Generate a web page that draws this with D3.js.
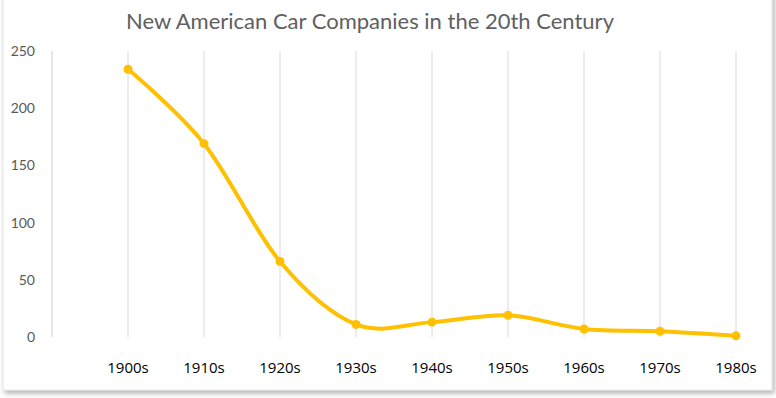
<!DOCTYPE html>
<html lang="en">
<head>
  <meta charset="UTF-8" />
  <title>New American Car Companies in the 20th Century</title>
  <style>
    html, body {
      margin: 0;
      padding: 0;
      background: #fff;
    }
    svg { display: block; }
  </style>
</head>
<body>
  <div id="chart"></div>

  <script src="https://d3js.org/d3.v7.min.js"></script>

  <script>
    const decades = ["1900s", "1910s", "1920s", "1930s", "1940s", "1950s", "1960s", "1970s", "1980s"];
    const companies = [234, 169, 66, 11, 13, 19, 7, 5, 1];
    const yTicks = [0, 50, 100, 150, 200, 250];

    const W = 776, H = 398;
    const plot = { left: 128, right: 736, top: 51, bottom: 337 };

    const svg = d3.select("#chart")
      .append("svg")
      .attr("width", W)
      .attr("height", H);

    // card with soft shadow
    const defs = svg.append("defs");
    const f = defs.append("filter").attr("id", "shadow")
      .attr("x", "-5%").attr("y", "-5%").attr("width", "110%").attr("height", "115%");
    f.append("feDropShadow")
      .attr("dx", 2).attr("dy", 3).attr("stdDeviation", 2.5)
      .attr("flood-color", "#000").attr("flood-opacity", 0.3);

    svg.append("rect")
      .attr("x", 3).attr("y", -10)
      .attr("width", 769).attr("height", 400)
      .attr("fill", "#fff")
      .attr("stroke", "#e3e3e3")
      .attr("stroke-width", 1)
      .attr("filter", "url(#shadow)");

    svg.append("text")
      .attr("x", 370)
      .attr("y", 29)
      .attr("text-anchor", "middle")
      .attr("font-family", "Lato, 'Open Sans', sans-serif")
      .attr("font-size", "22px")
      .attr("fill", "#606060")
      .text("New American Car Companies in the 20th Century");

    const x = d3.scalePoint()
      .domain(decades)
      .range([plot.left, plot.right]);

    const y = d3.scaleLinear()
      .domain([0, 250])
      .range([plot.bottom, plot.top]);

    // vertical gridlines (one extra slot left of the first decade)
    const gridX = [x(decades[0]) - x.step()].concat(decades.map(d => x(d)));
    svg.append("g")
      .selectAll("line")
      .data(gridX)
      .enter()
      .append("line")
      .attr("x1", d => d).attr("x2", d => d)
      .attr("y1", plot.top).attr("y2", plot.bottom)
      .attr("stroke", (d, i) => i === 0 ? "#cfcfcf" : "#d9d9d9")
      .attr("stroke-width", 1);

    // y labels
    svg.append("g")
      .selectAll("text")
      .data(yTicks)
      .enter()
      .append("text")
      .attr("x", 35)
      .attr("y", d => y(d))
      .attr("dy", "0.35em")
      .attr("text-anchor", "end")
      .attr("font-family", "Lato, 'Open Sans', sans-serif")
      .attr("font-size", "14px")
      .attr("fill", "#595959")
      .text(d => d);

    // x labels
    svg.append("g")
      .selectAll("text")
      .data(decades)
      .enter()
      .append("text")
      .attr("x", d => x(d))
      .attr("y", 373)
      .attr("text-anchor", "middle")
      .attr("font-family", "'Open Sans', sans-serif")
      .attr("font-size", "15px")
      .attr("fill", "#000")
      .text(d => d);

    const line = d3.line()
      .x((d, i) => x(decades[i]))
      .y(d => y(d))
      .curve(d3.curveCardinal.tension(0));

    svg.append("path")
      .datum(companies)
      .attr("d", line)
      .attr("fill", "none")
      .attr("stroke", "#FFC000")
      .attr("stroke-width", 4)
      .attr("stroke-linecap", "round");

    svg.append("g")
      .selectAll("circle")
      .data(companies)
      .enter()
      .append("circle")
      .attr("cx", (d, i) => x(decades[i]))
      .attr("cy", d => y(d))
      .attr("r", 4.5)
      .attr("fill", "#FFC000");
  </script>
</body>
</html>
